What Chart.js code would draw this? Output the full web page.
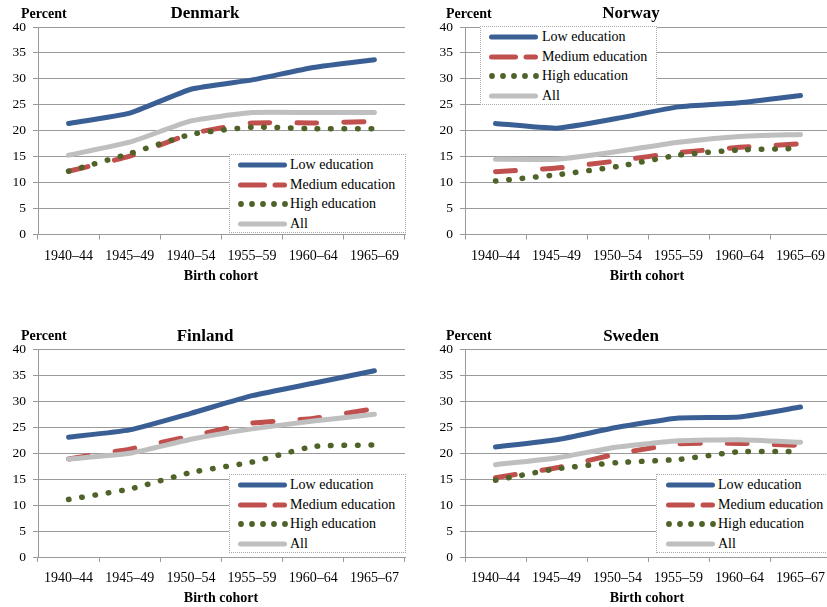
<!DOCTYPE html>
<html>
<head>
<meta charset="utf-8">
<script src="https://cdn.jsdelivr.net/npm/chart.js@4.4.1/dist/chart.umd.min.js"></script>
<style>
  html, body { margin: 0; padding: 0; background: #fff; }
  #wrap { position: relative; width: 827px; height: 607px; overflow: hidden; background: #fff; font-family: "Liberation Serif", "Times New Roman", serif; }
  .cv { position: absolute; }
  .t { position: absolute; white-space: nowrap; color: #000; line-height: 1; transform: translate(-50%, -50%); }
  .title { font-size: 17px; font-weight: bold; }
  .pct { font-size: 14px; font-weight: bold; transform: translate(0, -50%); }
  .xt { font-size: 14px; font-weight: bold; }
  .legend { position: absolute; border: 1px dotted #a8a8a8; background: #fff; box-sizing: border-box; }
  .legend svg { position: absolute; }
  .legend span { position: absolute; font-size: 14px; line-height: 1; white-space: nowrap; transform: translate(0, -50%); }
</style>
</head>
<body>
<div id="wrap"></div>
<script>
// ---------- DATA ----------
const cohortsDK = ['1940–44', '1945–49', '1940–54', '1955–59', '1960–64', '1965–69'];
const cohortsNO = ['1940–44', '1945–49', '1950–54', '1955–59', '1960–64', '1965–69'];
const cohortsFI = ['1940–44', '1945–49', '1950–54', '1955–59', '1960–64', '1965–67'];
const cohortsSE = ['1940–44', '1945–49', '1950–54', '1955–59', '1960–64', '1965–67'];

const seriesNames = ['Low education', 'Medium education', 'High education', 'All'];

const dkLow  = [21.4, 23.4, 28.0, 29.8, 32.2, 33.7];
const dkMed  = [12.2, 15.1, 19.4, 21.5, 21.5, 21.8];
const dkHigh = [12.2, 15.6, 19.3, 20.7, 20.4, 20.4];
const dkAll  = [15.3, 17.8, 21.9, 23.5, 23.5, 23.5];

const noLow  = [21.4, 20.5, 22.4, 24.6, 25.4, 26.8];
const noMed  = [12.1, 12.8, 14.2, 15.8, 16.8, 17.5];
const noHigh = [10.3, 11.5, 13.1, 15.3, 16.3, 16.6];
const noAll  = [14.5, 14.5, 16.0, 17.8, 18.9, 19.3];

const fiLow  = [23.1, 24.5, 27.7, 31.1, 33.5, 35.9];
const fiMed  = [18.9, 20.8, 23.3, 25.8, 26.7, 28.6];
const fiHigh = [11.1, 13.1, 16.3, 18.3, 21.3, 21.6];
const fiAll  = [18.9, 20.0, 22.7, 24.7, 26.2, 27.5];

const seLow  = [21.2, 22.6, 25.0, 26.8, 27.0, 28.9];
const seMed  = [15.3, 17.2, 19.9, 21.8, 21.9, 21.5];
const seHigh = [14.8, 17.0, 18.2, 18.8, 20.3, 20.3];
const seAll  = [17.8, 19.1, 21.2, 22.4, 22.6, 22.1];

const yTicks = [0, 5, 10, 15, 20, 25, 30, 35, 40];

// ---------- STYLE ----------
const colLow = '#3A5F94', colMed = '#C0504D', colHigh = '#4F6228', colAll = '#BFBFBF';
const gridCol = '#9a9a9a';
const FONT = '"Liberation Serif", "Times New Roman", serif';

const wrap = document.getElementById('wrap');

function addText(cls, text, x, y) {
  const d = document.createElement('div');
  d.className = 't ' + cls;
  d.textContent = text;
  d.style.left = x + 'px';
  d.style.top = y + 'px';
  wrap.appendChild(d);
}

function addLegend(left, top, width, lineX, textX) {
  const box = document.createElement('div');
  box.className = 'legend';
  box.style.left = left + 'px';
  box.style.top = top + 'px';
  box.style.width = width + 'px';
  box.style.height = '79px';
  const rows = [10, 29.5, 49, 68.5];
  const svgs = [
    `<line x1="2.5" y1="5" x2="46.5" y2="5" stroke="${colLow}" stroke-width="5" stroke-linecap="round"/>`,
    `<line x1="2.5" y1="5" x2="26.5" y2="5" stroke="${colMed}" stroke-width="5" stroke-linecap="round"/><line x1="37" y1="5" x2="46.5" y2="5" stroke="${colMed}" stroke-width="5" stroke-linecap="round"/>`,
    [3, 14, 25, 36, 47].map(c => `<circle cx="${c}" cy="5" r="2.9" fill="${colHigh}"/>`).join(''),
    `<line x1="2.5" y1="5" x2="46.5" y2="5" stroke="${colAll}" stroke-width="5" stroke-linecap="round"/>`
  ];
  rows.forEach((ry, i) => {
    const s = document.createElementNS('http://www.w3.org/2000/svg', 'svg');
    s.setAttribute('width', '50'); s.setAttribute('height', '10');
    s.style.left = lineX + 'px'; s.style.top = (ry - 5) + 'px';
    s.innerHTML = svgs[i];
    box.appendChild(s);
    const sp = document.createElement('span');
    sp.textContent = seriesNames[i];
    sp.style.left = textX + 'px'; sp.style.top = ry + 'px';
    box.appendChild(sp);
  });
  wrap.appendChild(box);
}

function makeChart(opts) {
  const c = document.createElement('canvas');
  c.className = 'cv';
  c.style.left = opts.left + 'px';
  c.style.top = opts.top + 'px';
  c.style.width = opts.width + 'px';
  c.style.height = opts.height + 'px';
  c.width = opts.width; c.height = opts.height;
  wrap.appendChild(c);
  const tension = 0.15;
  new Chart(c, {
    type: 'line',
    data: {
      labels: opts.labels,
      datasets: [
        { label: seriesNames[0], data: opts.low, borderColor: colLow, borderWidth: 5, borderCapStyle: 'round', borderJoinStyle: 'round', pointRadius: 0, tension, order: 3 },
        { label: seriesNames[1], data: opts.med, borderColor: colMed, borderWidth: 5, borderCapStyle: 'round', borderDash: [20, 27], pointRadius: 0, tension, order: 2 },
        { label: seriesNames[2], data: opts.high, borderColor: colHigh, borderWidth: 5.5, borderCapStyle: 'round', borderDash: [0.5, 12.9], pointRadius: 0, tension, order: 1 },
        { label: seriesNames[3], data: opts.all, borderColor: colAll, borderWidth: 5, borderCapStyle: 'round', borderJoinStyle: 'round', pointRadius: 0, tension, order: 0 }
      ]
    },
    options: {
      responsive: false,
      animation: false,
      devicePixelRatio: 1,
      layout: { padding: { left: 0, right: opts.padRight, top: opts.padTop, bottom: 0 } },
      plugins: { legend: { display: false }, tooltip: { enabled: false }, title: { display: false } },
      scales: {
        x: {
          type: 'category',
          offset: true,
          grid: { display: true, drawOnChartArea: false, drawTicks: true, tickLength: 5, offset: true, color: gridCol, lineWidth: 1 },
          border: { display: true, color: gridCol, width: 1 },
          ticks: { color: '#000', font: { family: FONT, size: 14 }, maxRotation: 0, minRotation: 0, autoSkip: false, padding: 8 },
          afterFit: s => { s.height = opts.xHeight; }
        },
        y: {
          min: 0, max: 40,
          afterBuildTicks: s => { s.ticks = yTicks.map(v => ({ value: v })); },
          grid: { display: true, drawOnChartArea: true, drawTicks: true, tickLength: 5, color: gridCol, lineWidth: 1 },
          border: { display: true, color: gridCol, width: 1 },
          ticks: { color: '#000', font: { family: FONT, size: 13.5 }, padding: 7 },
          afterFit: s => { s.width = opts.yWidth; }
        }
      }
    }
  });
}

// Denmark
makeChart({ left: 0, top: 0, width: 414, height: 300, labels: cohortsDK, low: dkLow, med: dkMed, high: dkHigh, all: dkAll,
  padRight: 9, padTop: 27, yWidth: 38, xHeight: 65.5 });
// Norway
makeChart({ left: 414, top: 0, width: 420, height: 300, labels: cohortsNO, low: noLow, med: noMed, high: noHigh, all: noAll,
  padRight: 3, padTop: 27, yWidth: 51, xHeight: 65.5 });
// Finland
makeChart({ left: 0, top: 300, width: 414, height: 300, labels: cohortsFI, low: fiLow, med: fiMed, high: fiHigh, all: fiAll,
  padRight: 9, padTop: 49.5, yWidth: 38, xHeight: 43 });
// Sweden
makeChart({ left: 414, top: 300, width: 420, height: 300, labels: cohortsSE, low: seLow, med: seMed, high: seHigh, all: seAll,
  padRight: 3, padTop: 49.5, yWidth: 51, xHeight: 43 });

// Titles and axis labels
addText('title', 'Denmark', 205, 12);
addText('title', 'Norway', 631, 12);
addText('title', 'Finland', 205, 335);
addText('title', 'Sweden', 631, 335);

addText('pct', 'Percent', 21, 14);
addText('pct', 'Percent', 446, 14);
addText('pct', 'Percent', 21, 336);
addText('pct', 'Percent', 446, 336);

addText('xt', 'Birth cohort', 221, 276);
addText('xt', 'Birth cohort', 647, 276);
addText('xt', 'Birth cohort', 221, 598);
addText('xt', 'Birth cohort', 647, 598);

// Legends
addLegend(229, 154, 177, 8, 60);
addLegend(480, 26, 177, 8, 61);
addLegend(229, 474, 177, 8, 60);
addLegend(656, 474, 180, 9, 61);
</script>
</body>
</html>
